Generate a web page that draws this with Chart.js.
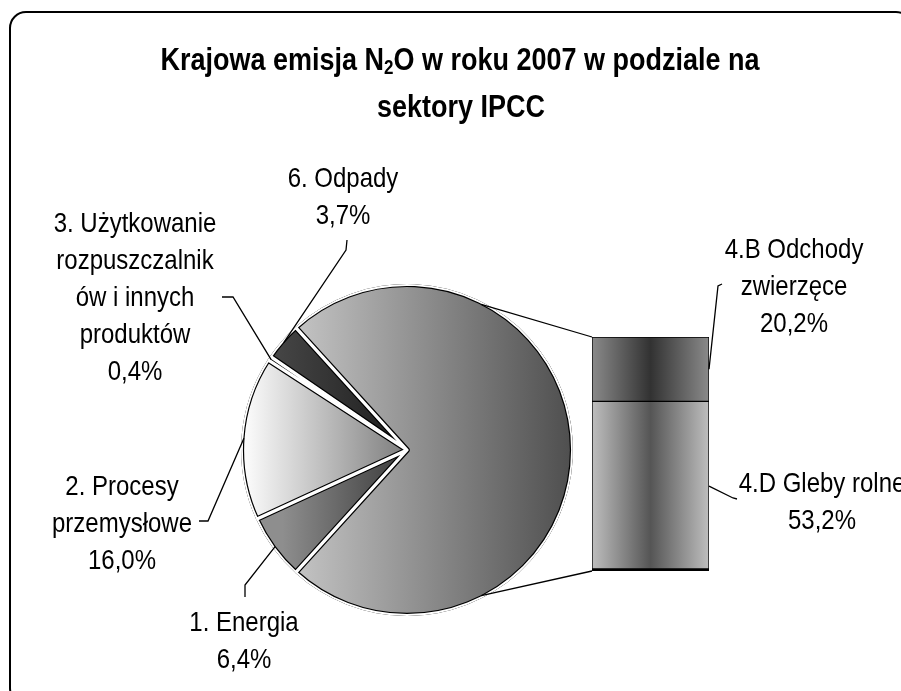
<!DOCTYPE html>
<html lang="pl">
<head>
<meta charset="utf-8">
<title>Krajowa emisja N2O w roku 2007</title>
<script src="https://cdn.jsdelivr.net/npm/chart.js@4.4.1/dist/chart.umd.min.js"></script>
<style>
  body { margin: 0; background: #fff; }
  #wrap { position: relative; width: 901px; height: 691px; overflow: hidden; }
  #wrap canvas { position: absolute; left: 0; top: 0; }
  #frame { position: absolute; left: 9px; top: 11px; width: 900px; height: 690px; border: 2px solid #000; border-radius: 17px; }
</style>
</head>
<body>
<div id="wrap">
  <div id="frame"></div>
  <canvas id="pie" width="901" height="691"></canvas>
  <canvas id="pieEdges" width="901" height="691"></canvas>
  <canvas id="bar" width="901" height="691"></canvas>
</div>
<script>
// shares of national N2O emission in 2007 (%), by IPCC sector
const sectors = ["1. Energia", "2. Procesy przemysłowe", "3. Użytkowanie rozpuszczalników i innych produktów", "6. Odpady"];
const sectorShares = [6.4, 16.0, 0.4, 3.7];

// agriculture is split out into the bar on the right
const agriName = "4. Rolnictwo";
const agriParts = ["4.B Odchody zwierzęce", "4.D Gleby rolne"];
const agriShares = [20.2, 53.2];

const agriTotal = agriShares.reduce((a, b) => a + b, 0);
const pieLabels = [agriName].concat(sectors);
const pieValues = [agriTotal].concat(sectorShares);
const pieTotal = pieValues.reduce((a, b) => a + b, 0);

// label blocks: centre x, first baseline, wrapped text, elbow of the leader line
const sectorNotes = [
  { x: 244, y: 631, wrap: ["1. Energia"], tick: [[245, 597], [245, 585]] },
  { x: 122, y: 495, wrap: ["2. Procesy", "przemysłowe"], tick: [[199, 521], [208, 521]] },
  { x: 135, y: 232, wrap: ["3. Użytkowanie", "rozpuszczalnik", "ów i innych", "produktów"], tick: [[222, 297], [233, 297]] },
  { x: 343, y: 187, wrap: ["6. Odpady"], tick: [[347, 240], [346, 250]] }
];
const agriNotes = [
  { x: 794, y: 258, wrap: ["4.B Odchody", "zwierzęce"], tick: [[722, 284], [718, 286]] },
  { x: 822, y: 492, wrap: ["4.D Gleby rolne"], tick: [[737, 499], [733, 498]] }
];

const labelFont = '24px "Liberation Sans", Arial, sans-serif';
const lineGap = 37;

function pct(v) {
  return v.toFixed(1).replace(".", ",") + "%";
}

function hGrad(ctx, x0, x1, stops) {
  const g = ctx.createLinearGradient(x0, 0, x1, 0);
  stops.forEach((c, i) => g.addColorStop(i / (stops.length - 1), c));
  return g;
}

// gradient span (in radii from the centre) and colours for each slice
const pieShades = [
  [-0.7, 1, ["#c6c6c6", "#4e4e4e"]],
  [-0.75, 0, ["#8e8e8e", "#3a3a3a"]],
  [-1, 0, ["#ffffff", "#7c7c7c"]],
  [-1, 0, ["#c8c8c8", "#c8c8c8"]],
  [-0.8, 0, ["#464646", "#1c1c1c"]]
];

function pieFill(c) {
  const a = c.chart.chartArea;
  if (!a) return "#999";
  const cx = (a.left + a.right) / 2;
  const r = Math.min(a.width, a.height) / 2;
  const s = pieShades[c.dataIndex];
  return hGrad(c.chart.ctx, cx + s[0] * r, cx + s[1] * r, s[2]);
}

function barFill(stops) {
  return (c) => {
    const a = c.chart.chartArea;
    if (!a) return stops[1];
    return hGrad(c.chart.ctx, a.left, a.right, stops);
  };
}

// the "other" slice is centred on the right side, like Excel's bar of pie
const rotation = 90 - (agriTotal / pieTotal) * 180;

function pieConfig(fill, border, width) {
  return {
    type: "pie",
    data: {
      labels: pieLabels,
      datasets: [{ data: pieValues, backgroundColor: fill, borderColor: border, borderWidth: width, borderAlign: "inner" }]
    },
    options: {
      responsive: false,
      animation: false,
      rotation: rotation,
      layout: { padding: { left: 241, right: 328, top: 284, bottom: 75 } },
      plugins: { legend: { display: false }, tooltip: { enabled: false } }
    }
  };
}

// black outline first, then a white inner edge on top gives the gaps between slices
const pieChart = new Chart(document.getElementById("pie"), pieConfig(pieFill, "#000", 2.8));
new Chart(document.getElementById("pieEdges"), pieConfig("rgba(0,0,0,0)", "#fff", 1.6));

function tallText(ctx, s, x, y, stretch) {
  ctx.save();
  ctx.translate(x, y);
  ctx.scale(1, stretch);
  ctx.fillText(s, 0, 0);
  ctx.restore();
}

function drawTitle(ctx) {
  const big = 'bold 27px "Liberation Sans", Arial, sans-serif';
  const small = 'bold 17px "Liberation Sans", Arial, sans-serif';
  const a = "Krajowa emisja N", b = "2", c = "O w roku 2007 w podziale na";
  ctx.font = big;
  const wa = ctx.measureText(a).width;
  const wc = ctx.measureText(c).width;
  ctx.font = small;
  const wb = ctx.measureText(b).width;
  let x = 460 - (wa + wb + wc) / 2;
  ctx.textAlign = "left";
  ctx.font = big;
  tallText(ctx, a, x, 70, 1.15);
  x += wa;
  ctx.font = small;
  tallText(ctx, b, x, 74, 1.15);
  x += wb;
  ctx.font = big;
  tallText(ctx, c, x, 70, 1.15);
  ctx.textAlign = "center";
  tallText(ctx, "sektory IPCC", 461, 117, 1.15);
}

function drawNote(ctx, note, value, px, py) {
  ctx.beginPath();
  ctx.moveTo(note.tick[0][0], note.tick[0][1]);
  ctx.lineTo(note.tick[1][0], note.tick[1][1]);
  ctx.lineTo(px, py);
  ctx.stroke();
  ctx.font = labelFont;
  ctx.textAlign = "center";
  note.wrap.concat([pct(value)]).forEach((line, i) => {
    tallText(ctx, line, note.x, note.y + i * lineGap, 1.18);
  });
}

const notes = {
  id: "notes",
  afterDraw(chart) {
    const ctx = chart.ctx;
    ctx.save();
    ctx.fillStyle = "#000";
    ctx.strokeStyle = "#000";
    ctx.lineWidth = 1.3;
    drawTitle(ctx);

    const arcs = pieChart.getDatasetMeta(0).data;
    const big = arcs[0];
    const R = big.outerRadius - 2.5;
    const topSeg = chart.getDatasetMeta(1).data[0];
    const lowSeg = chart.getDatasetMeta(0).data[0];
    const barLeft = topSeg.x - topSeg.width / 2;

    // lines joining the agriculture slice with the bar
    const a = 63 * Math.PI / 180;
    ctx.beginPath();
    ctx.moveTo(big.x + R * Math.cos(a), big.y - R * Math.sin(a));
    ctx.lineTo(barLeft, topSeg.y);
    ctx.moveTo(big.x + R * Math.cos(a), big.y + R * Math.sin(a));
    ctx.lineTo(barLeft, lowSeg.base);
    ctx.stroke();

    sectorNotes.forEach((note, i) => {
      const arc = arcs[i + 1];
      const mid = (arc.startAngle + arc.endAngle) / 2;
      const r = arc.outerRadius - 2.5;
      drawNote(ctx, note, sectorShares[i], arc.x + r * Math.cos(mid), arc.y + r * Math.sin(mid));
    });

    [topSeg, lowSeg].forEach((seg, i) => {
      drawNote(ctx, agriNotes[i], agriShares[i], seg.x + seg.width / 2, (seg.y + seg.base) / 2);
    });
    ctx.restore();
  }
};

// stacked bar: 4.D at the bottom, 4.B on top
const barSets = agriParts.map((name, i) => ({
  label: name,
  data: [agriShares[i]],
  backgroundColor: i === 0 ? barFill(["#8a8a8a", "#323232", "#8a8a8a"]) : barFill(["#bebebe", "#555555", "#bebebe"]),
  borderColor: "#000",
  borderWidth: i === 0 ? 1 : { top: 1, left: 1, right: 1, bottom: 3 },
  borderSkipped: false,
  barPercentage: 1,
  categoryPercentage: 1
})).reverse();

new Chart(document.getElementById("bar"), {
  type: "bar",
  data: { labels: [agriName], datasets: barSets },
  options: {
    responsive: false,
    animation: false,
    layout: { padding: { left: 592, right: 192, top: 337, bottom: 120 } },
    scales: {
      x: { stacked: true, display: false },
      y: { stacked: true, display: false, min: 0, max: agriTotal }
    },
    plugins: { legend: { display: false }, tooltip: { enabled: false } }
  },
  plugins: [notes]
});
</script>
</body>
</html>
